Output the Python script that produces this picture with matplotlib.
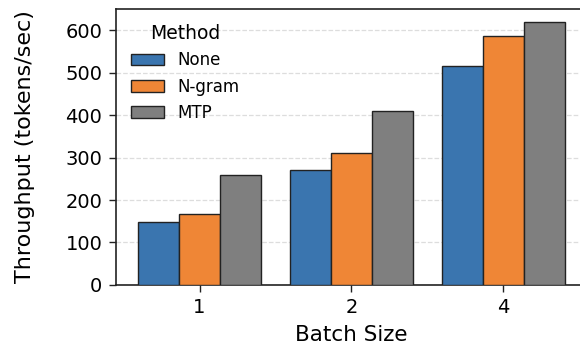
import matplotlib.pyplot as plt
import numpy as np

batch_sizes = ["1", "2", "4"]
methods = ["None", "N-gram", "MTP"]
none_tput = [147, 270, 515]
ngram_tput = [167, 311, 587]
mtp_tput = [259, 410, 619]
colors = ["#3a75af", "#ef8636", "#7f7f7f"]

fig = plt.figure(figsize=(5.8, 3.47), dpi=100)
ax = fig.add_axes([0.2, 0.179, 0.812, 0.795])

x = np.arange(len(batch_sizes))
w = 0.27
for i, (name, vals) in enumerate(zip(methods, [none_tput, ngram_tput, mtp_tput])):
    ax.bar(x + (i - 1) * w, vals, w, label=name, color=colors[i],
           edgecolor="#222222", linewidth=1.0, zorder=3)

ax.set_xlim(-0.55, 2.55)
ax.set_ylim(0, 650)
ax.set_xticks(x)
ax.set_xticklabels(batch_sizes)
ax.set_yticks([0, 100, 200, 300, 400, 500, 600])
ax.tick_params(labelsize=14, length=4.8, width=1.0, pad=5, color="#222222")
ax.set_xlabel("Batch Size", fontsize=15.5, labelpad=5.5)
ax.set_ylabel("Throughput (tokens/sec)", fontsize=16, labelpad=22)
for s in ax.spines.values():
    s.set_color("#222222")
    s.set_linewidth(1.2)
ax.yaxis.grid(True, linestyle="--", color="#dddddd", linewidth=0.9, zorder=0)
ax.set_axisbelow(True)

leg = ax.legend(title="Method", loc="upper left", frameon=False,
                fontsize=12, title_fontsize=13.5)

fig.savefig("out.png", dpi=100)
